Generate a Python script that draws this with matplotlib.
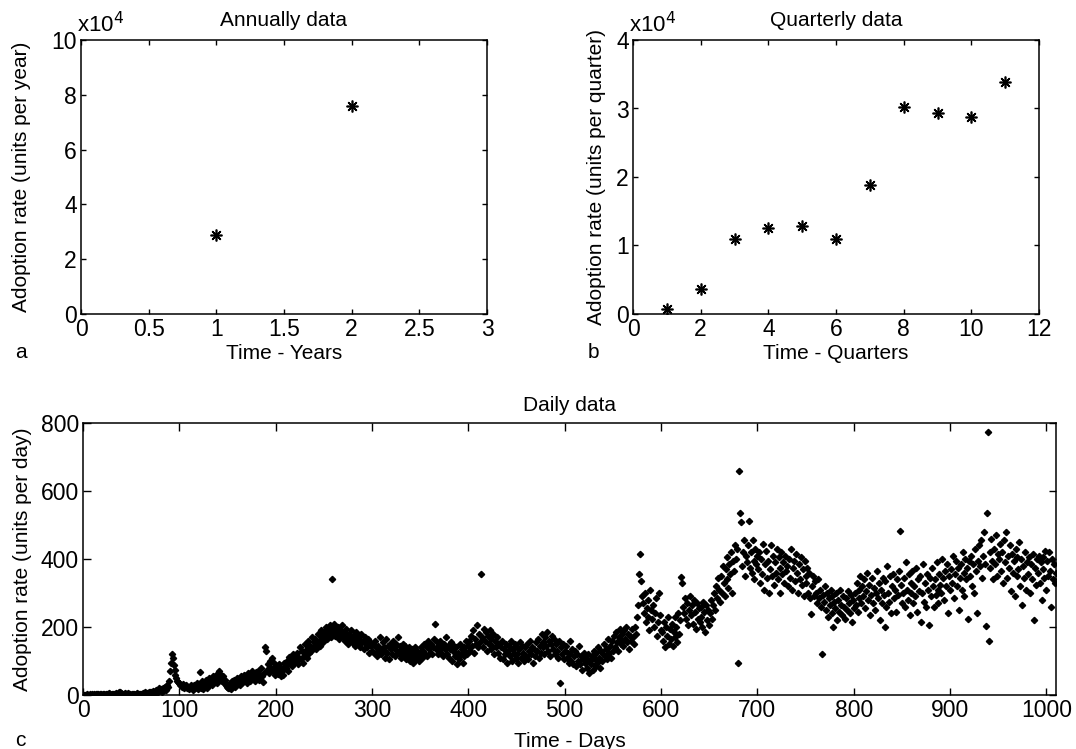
import matplotlib
matplotlib.use("Agg")
import matplotlib.pyplot as plt
from matplotlib.ticker import FuncFormatter
import numpy as np

plt.rcParams['font.family'] = ['Liberation Sans', 'DejaVu Sans']
plt.rcParams['font.size'] = 15

# annual and quarterly totals
years = [1, 2]
annual = [28700, 75900]
quarters = [1, 2, 3, 4, 5, 6, 7, 8, 9, 10, 11]
quarterly = [680, 3600, 11000, 12500, 12900, 11000, 18800, 30200, 29300, 28700, 33800]

# daily adoption, days 1..1010
daily = [
    0, 1, 0, 2, 1, 0, 3, 1, 2, 0,
    2, 1, 3, 0, 2, 4, 1, 2, 3, 1,
    2, 3, 1, 4, 2, 3, 5, 2, 1, 3,
    4, 2, 3, 6, 3, 2, 8, 10, 6, 3,
    2, 4, 3, 5, 2, 3, 6, 4, 2, 1,
    3, 2, 4, 1, 3, 5, 2, 4, 3, 2,
    4, 6, 3, 8, 5, 7, 4, 10, 6, 8,
    9, 5, 12, 8, 10, 14, 7, 12, 20, 15,
    18, 10, 22, 14, 24, 16, 30, 25, 40, 70,
    95, 122, 110, 88, 75, 60, 50, 42, 38, 35,
    30, 28, 25, 32, 22, 27, 30, 20, 25, 18,
    24, 30, 22, 16, 28, 20, 26, 35, 18, 25,
    68, 30, 22, 40, 18, 35, 28, 45, 22, 38,
    50, 32, 42, 28, 55, 38, 48, 60, 35, 45,
    72, 62, 50, 40, 55, 35, 45, 30, 25, 20,
    28, 22, 35, 18, 40, 30, 45, 25, 38, 50,
    35, 48, 30, 55, 42, 38, 60, 45, 52, 35,
    65, 50, 42, 58, 70, 48, 55, 62, 40, 68,
    52, 72, 45, 60, 80, 55, 38, 65, 140, 130,
    75, 90, 65, 100, 80, 110, 70, 95, 60, 85,
    75, 62, 90, 68, 80, 55, 72, 60, 95, 85,
    78, 100, 70, 112, 90, 105, 85, 120, 95, 110,
    100, 125, 92, 110, 140, 105, 128, 95, 115, 150,
    120, 135, 110, 160, 125, 145, 130, 170, 140, 155,
    165, 135, 150, 180, 160, 145, 190, 170, 155, 185,
    175, 200, 165, 190, 180, 205, 170, 340, 195, 185,
    210, 175, 195, 180, 200, 165, 190, 175, 205, 170,
    185, 160, 195, 175, 150, 180, 165, 190, 155, 175,
    170, 145, 185, 160, 175, 150, 165, 140, 180, 155,
    160, 135, 170, 150, 140, 165, 125, 155, 145, 130,
    150, 125, 160, 140, 115, 145, 130, 170, 120, 135,
    155, 140, 110, 130, 165, 125, 145, 105, 150, 135,
    120, 160, 140, 115, 150, 130, 170, 125, 145, 110,
    135, 150, 120, 145, 105, 130, 115, 140, 100, 125,
    110, 135, 95, 120, 140, 105, 130, 115, 100, 125,
    140, 110, 130, 150, 120, 145, 115, 160, 135, 125,
    150, 120, 140, 165, 210, 135, 155, 120, 145, 130,
    160, 125, 140, 115, 150, 135, 170, 120, 145, 110,
    135, 155, 100, 130, 145, 115, 140, 90, 125, 105,
    150, 120, 135, 95, 140, 115, 130, 160, 120, 145,
    160, 130, 175, 145, 190, 125, 165, 150, 205, 140,
    180, 155, 355, 170, 140, 195, 160, 185, 130, 175,
    150, 190, 135, 165, 145, 180, 120, 160, 140, 170,
    125, 150, 110, 140, 160, 105, 135, 120, 150, 95,
    130, 145, 115, 160, 100, 135, 125, 150, 110, 140,
    120, 95, 135, 155, 110, 145, 125, 100, 140, 115,
    150, 105, 130, 160, 120, 140, 95, 135, 115, 155,
    130, 165, 110, 145, 125, 180, 140, 155, 120, 170,
    145, 185, 130, 160, 115, 150, 175, 135, 165, 120,
    150, 130, 110, 160, 35, 140, 120, 150, 105, 130,
    145, 110, 125, 95, 160, 120, 100, 135, 90, 115,
    130, 85, 120, 100, 145, 90, 115, 75, 105, 125,
    95, 110, 80, 120, 65, 100, 90, 115, 75, 130,
    105, 85, 125, 95, 140, 110, 80, 130, 100, 120,
    150, 115, 135, 105, 165, 125, 145, 110, 160, 130,
    175, 140, 185, 155, 130, 170, 195, 150, 180, 160,
    145, 190, 165, 200, 155, 180, 135, 175, 160, 195,
    170, 150, 200, 180, 230, 265, 355, 415, 335, 290,
    270, 240, 300, 215, 255, 230, 280, 190, 310, 250,
    225, 265, 200, 240, 285, 175, 215, 300, 235, 190,
    185, 160, 215, 140, 200, 175, 230, 150, 195, 165,
    210, 145, 185, 230, 170, 200, 155, 240, 180, 220,
    348, 329, 260, 240, 285, 225, 270, 205, 250, 290,
    235, 265, 210, 280, 245, 195, 270, 225, 255, 215,
    260, 230, 200, 275, 245, 185, 265, 220, 250, 205,
    240, 280, 225, 265, 300, 250, 320, 285, 345, 310,
    275, 350, 300, 380, 330, 290, 370, 340, 405, 315,
    385, 355, 420, 300, 395, 365, 440, 400, 430, 95,
    660, 534, 508, 380, 420, 455, 350, 410, 390, 440,
    512, 375, 420, 360, 455, 395, 340, 430, 385, 410,
    370, 420, 330, 400, 355, 445, 310, 385, 425, 345,
    395, 300, 370, 440, 350, 410, 325, 390, 360, 430,
    340, 405, 375, 300, 420, 355, 390, 330, 410, 365,
    380, 320, 400, 345, 430, 310, 375, 395, 335, 415,
    360, 300, 385, 340, 405, 325, 370, 290, 395, 350,
    330, 375, 300, 360, 285, 237, 320, 350, 290, 335,
    300, 270, 340, 285, 310, 260, 122, 295, 275, 320,
    250, 300, 230, 285, 265, 310, 240, 290, 200, 275,
    255, 300, 220, 280, 245, 310, 265, 235, 290, 260,
    225, 285, 250, 305, 270, 240, 295, 215, 280, 255,
    300, 265, 330, 245, 310, 285, 350, 270, 320, 290,
    340, 255, 305, 360, 280, 325, 235, 295, 345, 270,
    315, 250, 300, 365, 285, 330, 220, 310, 270, 345,
    295, 200, 335, 260, 380, 300, 275, 350, 240, 320,
    355, 285, 310, 245, 340, 295, 365, 483, 325, 270,
    300, 345, 260, 390, 310, 280, 355, 235, 330, 300,
    365, 270, 320, 290, 375, 245, 340, 305, 350, 215,
    300, 385, 275, 330, 260, 355, 310, 205, 345, 290,
    375, 320, 260, 340, 295, 390, 310, 270, 355, 325,
    300, 400, 345, 280, 365, 320, 385, 240, 350, 310,
    370, 330, 410, 285, 355, 395, 320, 375, 250, 345,
    385, 310, 420, 360, 290, 400, 340, 375, 225, 395,
    350, 410, 320, 385, 300, 430, 365, 240, 395, 440,
    380, 455, 345, 410, 480, 385, 203, 534, 773, 158,
    420, 375, 460, 395, 340, 430, 385, 470, 350, 415,
    400, 445, 365, 420, 330, 455, 390, 480, 345, 410,
    375, 440, 305, 415, 360, 395, 290, 430, 350, 405,
    370, 450, 320, 400, 265, 380, 345, 420, 310, 390,
    355, 405, 300, 385, 340, 415, 220, 375, 325, 400,
    360, 410, 330, 390, 280, 370, 405, 345, 425, 310,
    395, 350, 420, 365, 260, 400, 340, 385, 330, 360,
]
days = np.arange(1, len(daily) + 1)

W, H = 1076, 749
fig = plt.figure(figsize=(W / 100, H / 100), dpi=100)


def box(l, t, r, b):
    return [l / W, 1 - b / H, (r - l) / W, (b - t) / H]


ax_a = fig.add_axes(box(81, 40, 487, 314))
ax_b = fig.add_axes(box(633, 40, 1039, 314))
ax_c = fig.add_axes(box(83, 423, 1056, 695))

ast = (8, 2, 0)  # matlab style asterisk
ax_a.plot(years, annual, ls='none', marker=ast, ms=8.5, mew=1.2, color='black')
ax_b.plot(quarters, quarterly, ls='none', marker=ast, ms=8.5, mew=1.2, color='black')
ax_c.plot(days, daily, ls='none', marker='D', ms=3.2, color='black')

ax_a.set_xlim(0, 3)
ax_a.set_ylim(0, 100000)
ax_a.set_xticks(np.arange(0, 3.01, 0.5))
ax_a.set_xticklabels(['0', '0.5', '1', '1.5', '2', '2.5', '3'])
ax_a.set_yticks(np.arange(0, 100001, 20000))

ax_b.set_xlim(0, 12)
ax_b.set_ylim(0, 40000)
ax_b.set_xticks(np.arange(0, 13, 2))
ax_b.set_yticks(np.arange(0, 40001, 10000))

e4 = FuncFormatter(lambda v, p: '%g' % (v / 1e4))
for ax in (ax_a, ax_b):
    ax.yaxis.set_major_formatter(e4)
    ax.text(-0.01, 1.01, r'x10$^{4}$', transform=ax.transAxes, ha='left', va='bottom', fontsize=16)

ax_c.set_xlim(0, 1010)
ax_c.set_ylim(0, 800)
ax_c.set_xticks(np.arange(0, 1001, 100))
ax_c.set_yticks(np.arange(0, 801, 200))

for ax, tl in ((ax_a, 3.6), (ax_b, 3.6), (ax_c, 5.4)):
    ax.tick_params(direction='in', top=True, right=True, length=tl, width=1, labelsize=16.5, pad=3)
    for s in ax.spines.values():
        s.set_linewidth(1.1)

ax_a.set_title('Annually data', fontsize=15, pad=10)
ax_b.set_title('Quarterly data', fontsize=15, pad=10)
ax_c.set_title('Daily data', fontsize=15, pad=8.5)

ax_a.set_xlabel('Time - Years', fontsize=15)
ax_b.set_xlabel('Time - Quarters', fontsize=15)
ax_c.set_xlabel('Time - Days', fontsize=15)
ax_a.set_ylabel('Adoption rate (units per year)', fontsize=15)
ax_b.set_ylabel('Adoption rate (units per quarter)', fontsize=15)
ax_c.set_ylabel('Adoption rate (units per day)', fontsize=15)

ax_a.xaxis.set_label_coords(0.5, -0.109)
ax_b.xaxis.set_label_coords(0.5, -0.109)
ax_c.xaxis.set_label_coords(0.5, -0.136)
ax_a.yaxis.set_label_coords(-0.123, 0.5)
ax_b.yaxis.set_label_coords(-0.066, 0.5)
ax_c.yaxis.set_label_coords(-0.052, 0.5)

fig.text(15 / W, 1 - 353 / H, 'a', fontsize=15, va='center')
fig.text(588 / W, 1 - 353 / H, 'b', fontsize=15, va='center')
fig.text(15 / W, 1 - 740 / H, 'c', fontsize=15, va='center')

fig.savefig('out.png', dpi=100)
